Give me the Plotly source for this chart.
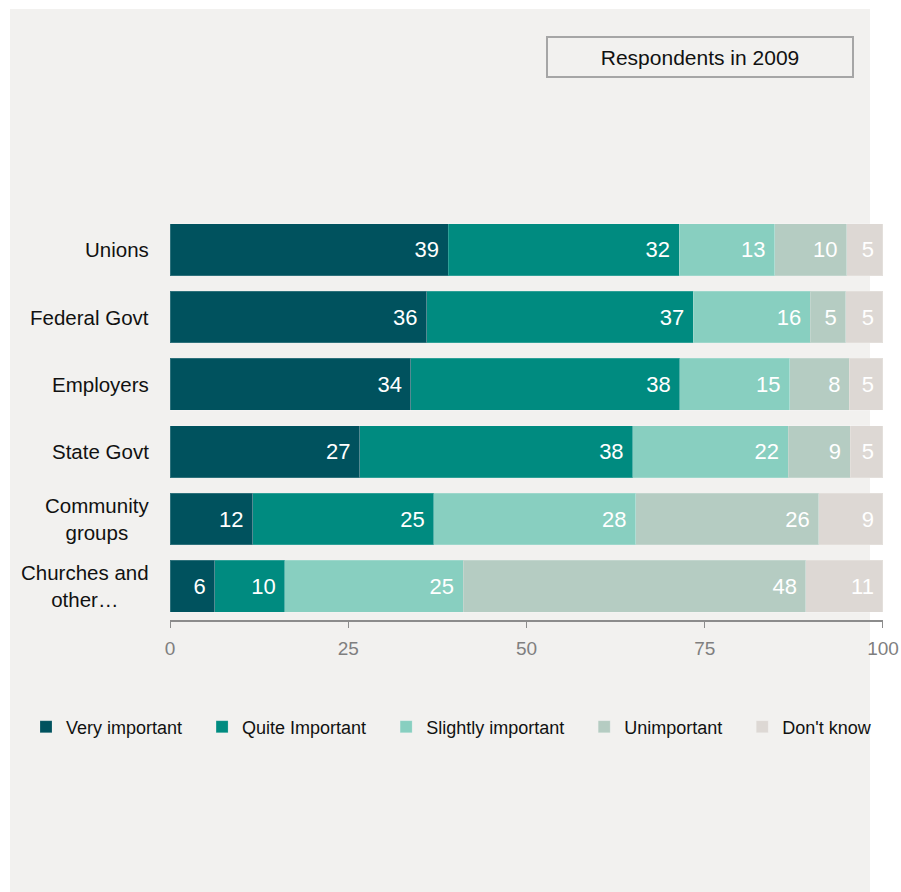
import plotly.graph_objects as go

# Survey: importance of each group, share of respondents (%)
categories = ["Unions", "Federal Govt", "Employers", "State Govt",
              "Community<br>groups", "Churches and<br>other…"]
series_names = ["Very important", "Quite Important", "Slightly important",
                "Unimportant", "Don't know"]
very_important = [39.0, 36.0, 33.8, 26.6, 11.6, 6.3]
quite_important = [32.4, 37.4, 37.7, 38.3, 25.4, 9.8]
slightly_important = [13.4, 16.4, 15.4, 21.8, 28.3, 25.0]
unimportant = [10.1, 5.0, 8.4, 8.7, 25.7, 48.1]
dont_know = [5.1, 5.2, 4.7, 4.6, 9.0, 10.8]
x_ticks = [0, 25, 50, 75, 100]
box_title = "Respondents in 2009"

series_values = [very_important, quite_important, slightly_important,
                 unimportant, dont_know]
colors = ["#00525E", "#008B80", "#88CFC0", "#B5CCC2", "#DDD8D4"]

W, H = 901, 892
L, R, T, B = 170, 18, 216, 272
PW, PH = W - L - R, H - T - B


def px_x(x):
    return (x - L) / PW


def px_y(y):
    return (H - B - y) / PH


FONT = "Liberation Sans, Arial, sans-serif"
NBSP = "\u00a0"

fig = go.Figure()
for name, vals, col in zip(series_names, series_values, colors):
    fig.add_trace(go.Bar(
        y=categories, x=vals, name=name + NBSP * 3, orientation="h",
        marker=dict(color=col, line=dict(color="rgba(255,255,255,0.18)", width=1)),
        texttemplate="%{x:.0f}" + NBSP, textposition="inside",
        insidetextanchor="end", textangle=0, constraintext="none",
        textfont=dict(color="white", size=22, family=FONT),
        hoverinfo="skip", cliponaxis=False,
    ))

# category labels, centred line by line
annotations = [
    dict(x=px_x(151), xref="paper", y=c, yref="y", text=c, showarrow=False,
         xanchor="right", align="center", font=dict(size=20.5, color="#111", family=FONT))
    for c in categories
]
annotations.append(dict(
    x=px_x(700), y=px_y(57), xref="paper", yref="paper", text=box_title,
    showarrow=False, width=302, height=36, bordercolor="#A6A6A6", borderwidth=2,
    font=dict(size=21, color="#111", family=FONT), xanchor="center", yanchor="middle",
))

fig.update_layout(
    width=W, height=H, margin=dict(l=L, r=R, t=T, b=B, autoexpand=False),
    barmode="stack", bargap=0.23,
    paper_bgcolor="white", plot_bgcolor="rgba(0,0,0,0)",
    font=dict(family=FONT),
    shapes=[dict(type="rect", xref="paper", yref="paper", layer="below",
                 x0=px_x(10), x1=px_x(870), y0=px_y(892), y1=px_y(9),
                 fillcolor="#F2F1EF", line=dict(width=0))],
    annotations=annotations,
    showlegend=True,
    legend=dict(orientation="h", x=px_x(26), xanchor="left", y=px_y(727),
                yanchor="middle", font=dict(size=18, color="#111", family=FONT),
                bgcolor="rgba(0,0,0,0)", traceorder="normal"),
    xaxis=dict(range=[0, 100.001], tickvals=x_ticks, showgrid=False, zeroline=False,
               showline=True, linecolor="#8C8C8C", linewidth=1.5,
               ticks="outside", ticklen=6, tickcolor="#8C8C8C",
               tickfont=dict(size=19, color="#7F7F7F", family=FONT),
               ticklabelstandoff=4, fixedrange=True),
    yaxis=dict(autorange="reversed", showticklabels=False, showgrid=False,
               zeroline=False, showline=False, fixedrange=True),
)

fig.write_html("out.html")
